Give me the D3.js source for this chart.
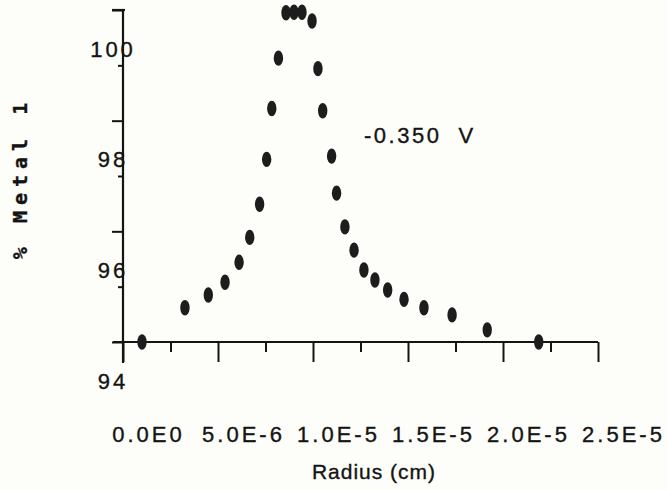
<!DOCTYPE html>
<html>
<head>
<meta charset="utf-8">
<script src="https://cdn.jsdelivr.net/npm/d3@7/dist/d3.min.js"></script>
<style>
  html, body { margin: 0; padding: 0; background: #fdfdf9; }
  svg { display: block; }
  text { font-family: "Liberation Sans", Arial, sans-serif; fill: #141414; stroke: #141414; stroke-width: 0.35px; }
</style>
</head>
<body>
<svg id="chart" width="667" height="490"></svg>
<script>
// ---- data ----
const radius = [1.00e-6, 3.26e-6, 4.49e-6, 5.37e-6, 6.11e-6, 6.67e-6, 7.19e-6, 7.56e-6, 7.83e-6,
  8.18e-6, 8.58e-6, 9.00e-6, 9.42e-6, 9.95e-6, 10.26e-6, 10.51e-6, 10.98e-6, 11.24e-6,
  11.68e-6, 12.16e-6, 12.68e-6, 13.26e-6, 13.93e-6, 14.79e-6, 15.84e-6, 17.32e-6, 19.17e-6, 21.88e-6];
const metal = [94.00, 94.62, 94.85, 95.08, 95.44, 95.89, 96.49, 97.30, 98.22,
  99.13, 99.95, 99.96, 99.96, 99.80, 98.94, 98.18, 97.36, 96.69,
  96.08, 95.66, 95.30, 95.12, 94.94, 94.77, 94.62, 94.49, 94.22, 94.00];
const xMajorTicks = [0, 5e-6, 1e-5, 1.5e-5, 2e-5, 2.5e-5];
const xMinorTicks = [2.5e-6, 7.5e-6, 1.25e-5, 1.75e-5, 2.25e-5];
const xTickLabels = ["0.0E0", "5.0E-6", "1.0E-5", "1.5E-5", "2.0E-5", "2.5E-5"];
const yMajorTicks = [94, 96, 98, 100];
const yMinorTicks = [95, 97, 99];
const yTickLabels = ["94", "96", "98", "100"];
const xTitle = "Radius (cm)";
const yTitle = "% Metal 1";
const annotation = "-0.350  V";

// ---- layout ----
const svg = d3.select("#chart");
const x = d3.scaleLinear().domain([0, 2.5e-5]).range([123, 598]);
const y = d3.scaleLinear().domain([94, 100]).range([342, 10]);

const ink = "#141414";

// x axis: major ticks (long) + labels shifted right as in the original
const gx = svg.append("g").attr("transform", `translate(0,${y(94)})`);
gx.call(d3.axisBottom(x).tickValues(xMajorTicks).tickSize(20).tickSizeOuter(0)
  .tickFormat((d, i) => xTickLabels[i]));
gx.select(".domain").remove();
gx.selectAll(".tick line").attr("stroke", ink).attr("stroke-width", 2);
gx.selectAll(".tick text")
  .attr("y", 100).attr("dy", 0).attr("dx", 25)
  .style("font-size", "22px").style("letter-spacing", "3px")
  .attr("fill", ink);

const gxm = svg.append("g").attr("transform", `translate(0,${y(94)})`);
gxm.call(d3.axisBottom(x).tickValues(xMinorTicks).tickSize(10).tickFormat(""));
gxm.select(".domain").remove();
gxm.selectAll(".tick line").attr("stroke", ink).attr("stroke-width", 2);

// y axis: major ticks + labels shifted down as in the original
const gy = svg.append("g").attr("transform", `translate(${x(0)},0)`);
gy.call(d3.axisLeft(y).tickValues(yMajorTicks).tickSize(11).tickSizeOuter(0)
  .tickFormat((d, i) => yTickLabels[i]));
gy.select(".domain").remove();
gy.selectAll(".tick line").attr("stroke", ink).attr("stroke-width", 2);
gy.selectAll(".tick text")
  .attr("x", -10).attr("dy", 0).attr("y", 46)
  .attr("text-anchor", "middle")
  .style("font-size", "22px").style("letter-spacing", "3px")
  .attr("fill", ink);

const gym = svg.append("g").attr("transform", `translate(${x(0)},0)`);
gym.call(d3.axisLeft(y).tickValues(yMinorTicks).tickSize(5).tickFormat(""));
gym.select(".domain").remove();
gym.selectAll(".tick line").attr("stroke", ink).attr("stroke-width", 2);

// axis lines
svg.append("line")
  .attr("x1", x(0) - 10).attr("x2", x(2.5e-5))
  .attr("y1", y(94)).attr("y2", y(94))
  .attr("stroke", ink).attr("stroke-width", 2.2);
svg.append("line")
  .attr("x1", x(0)).attr("x2", x(0))
  .attr("y1", y(100) - 1).attr("y2", y(94) + 21)
  .attr("stroke", ink).attr("stroke-width", 2.2);
svg.append("line")
  .attr("x1", x(0) - 11).attr("x2", x(0) + 2)
  .attr("y1", y(100)).attr("y2", y(100))
  .attr("stroke", ink).attr("stroke-width", 2.2);

// data markers (filled ellipses)
const pts = radius.map((r, i) => ({ r, m: metal[i] }));
svg.append("g").selectAll("ellipse").data(pts).join("ellipse")
  .attr("cx", d => x(d.r)).attr("cy", d => y(d.m))
  .attr("rx", 4.7).attr("ry", 7.7)
  .attr("fill", "#1d1d1d");

// annotation
svg.append("text")
  .attr("x", 364).attr("y", 143)
  .style("white-space", "pre")
  .style("font-size", "22px").style("letter-spacing", "2.5px")
  .text(annotation);

// axis titles
svg.append("text")
  .attr("x", 374).attr("y", 479)
  .attr("text-anchor", "middle")
  .style("font-size", "21px").style("letter-spacing", "1px")
  .text(xTitle);

svg.append("text")
  .attr("transform", "translate(27,178) rotate(-90)")
  .attr("text-anchor", "middle")
  .style("font-family", "'DejaVu Sans Mono', monospace")
  .style("font-weight", "bold")
  .style("font-size", "20px").style("letter-spacing", "6px")
  .text(yTitle);
</script>
</body>
</html>
